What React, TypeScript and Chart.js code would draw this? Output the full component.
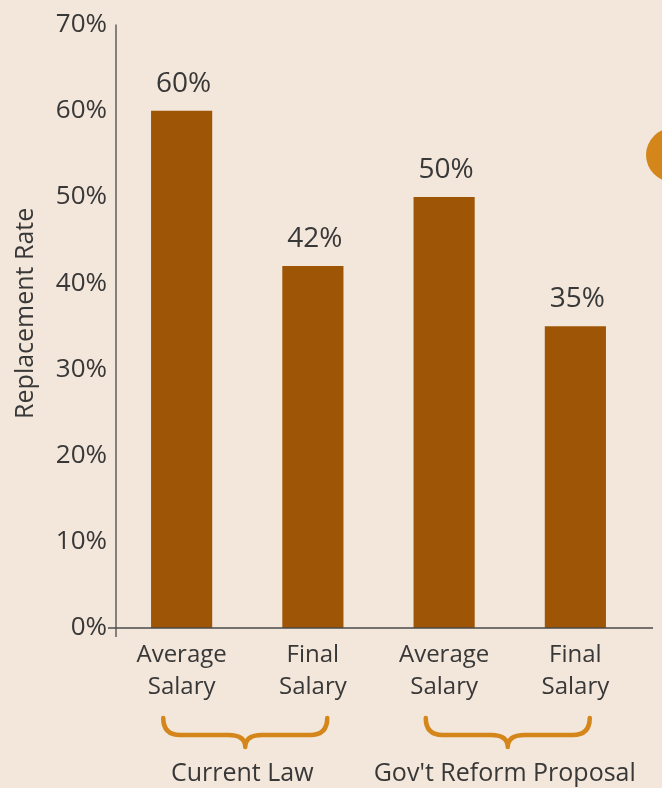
import React, { useEffect, useRef } from "react";
import { Chart, registerables } from "chart.js";

Chart.register(...registerables);

const categories: string[][] = [
  ["Average", "Salary"],
  ["Final", "Salary"],
  ["Average", "Salary"],
  ["Final", "Salary"],
];
const replacementRates: number[] = [60, 42, 50, 35];
const groups: { label: string; from: number; to: number }[] = [
  { label: "Current Law", from: 0, to: 1 },
  { label: "Gov't Reform Proposal", from: 2, to: 3 },
];
const yTicks: number[] = [0, 10, 20, 30, 40, 50, 60, 70];
const yTitle = "Replacement Rate";

const BG = "#F3E6DA";
const BAR = "#9E5606";
const ACCENT = "#D4861A";
const TEXT = "#383838";
const AXIS = "#4a4a4a";
const FONT = "'Open Sans', 'Noto Sans', sans-serif";
const W = 400;

const decorPlugin = {
  id: "decor",
  beforeDraw(chart: any) {
    const { ctx, width, height } = chart;
    ctx.save();
    ctx.fillStyle = BG;
    ctx.fillRect(0, 0, width, height);
    ctx.fillStyle = ACCENT;
    ctx.beginPath();
    ctx.arc(width + 11, 155, 27, 0, Math.PI * 2);
    ctx.fill();
    ctx.restore();
  },
  afterDatasetsDraw(chart: any) {
    const { ctx, chartArea } = chart;
    const xs = chart.scales.x;
    ctx.save();
    ctx.strokeStyle = AXIS;
    ctx.lineWidth = 1.3;
    ctx.beginPath();
    ctx.moveTo(chartArea.left, chartArea.top);
    ctx.lineTo(chartArea.left, chartArea.bottom + 9);
    ctx.stroke();
    ctx.beginPath();
    ctx.moveTo(chartArea.left - 8, chartArea.bottom);
    ctx.lineTo(chartArea.right + 12, chartArea.bottom);
    ctx.stroke();

    // y axis title
    ctx.save();
    ctx.fillStyle = TEXT;
    ctx.font = `${W} 25px ${FONT}`;
    ctx.textAlign = "center";
    ctx.textBaseline = "middle";
    ctx.translate(26, (chartArea.top + chartArea.bottom) / 2 - 13);
    ctx.rotate(-Math.PI / 2);
    ctx.fillText(yTitle, 0, 0);
    ctx.restore();

    const meta = chart.getDatasetMeta(0);
    ctx.fillStyle = TEXT;
    ctx.font = `${W} 28px ${FONT}`;
    ctx.textAlign = "center";
    ctx.textBaseline = "alphabetic";
    meta.data.forEach((bar: any, i: number) => {
      ctx.fillText(`${replacementRates[i]}%`, bar.x + 2, bar.y - 19);
    });

    groups.forEach((g) => {
      const a = xs.getPixelForValue(g.from);
      const b = xs.getPixelForValue(g.to);
      const xc = (a + b) / 2 - 2;
      const x0 = xc - 82;
      const x1 = xc + 82;
      const y0 = 718;
      const ym = 735;
      const yt = 747;
      ctx.strokeStyle = ACCENT;
      ctx.lineWidth = 4.5;
      ctx.lineCap = "round";
      ctx.lineJoin = "round";
      ctx.beginPath();
      ctx.moveTo(x0, y0);
      ctx.quadraticCurveTo(x0, ym, x0 + 17, ym);
      ctx.lineTo(xc - 17, ym);
      ctx.quadraticCurveTo(xc, ym, xc, yt);
      ctx.quadraticCurveTo(xc, ym, xc + 17, ym);
      ctx.lineTo(x1 - 17, ym);
      ctx.quadraticCurveTo(x1, ym, x1, y0);
      ctx.stroke();
      ctx.fillStyle = TEXT;
      ctx.font = `${W} 25px ${FONT}`;
      ctx.textAlign = "center";
      ctx.fillText(g.label, xc - 3, 781);
    });
    ctx.restore();
  },
};

export default function App() {
  const ref = useRef<HTMLCanvasElement | null>(null);
  useEffect(() => {
    document.body.style.margin = "0";
    document.body.style.background = BG;
    if (!ref.current) return;
    const chart = new Chart(ref.current, {
      type: "bar",
      data: {
        labels: categories,
        datasets: [
          {
            data: replacementRates,
            backgroundColor: BAR,
            borderWidth: 0,
            barPercentage: 0.466,
            categoryPercentage: 1,
          },
        ],
      },
      options: {
        animation: false,
        responsive: false,
        maintainAspectRatio: false,
        layout: { padding: { left: 0, right: 21, top: 22, bottom: 0 } },
        plugins: {
          legend: { display: false },
          tooltip: { enabled: false },
        },
        scales: {
          x: {
            grid: { display: false, drawTicks: false },
            border: { display: false },
            ticks: {
              color: TEXT,
              font: { family: FONT, size: 24, weight: W as any, lineHeight: 1.3 },
              padding: 12,
              maxRotation: 0,
              autoSkip: false,
            },
            afterFit: (s: any) => {
              s.height = 160;
            },
          },
          y: {
            min: 0,
            max: 70,
            afterBuildTicks: (s: any) => {
              s.ticks = yTicks.map((v) => ({ value: v }));
            },
            grid: { display: false, drawTicks: false },
            border: { display: false },
            ticks: {
              color: TEXT,
              font: { family: FONT, size: 26, weight: W as any },
              padding: 9,
              callback: (v: any) => `${v}%`,
            },
            afterFit: (s: any) => {
              s.width = 116;
            },
          },
        },
      },
      plugins: [decorPlugin],
    });
    return () => chart.destroy();
  }, []);
  return (
    <div style={{ width: 662, height: 788, background: BG }}>
      <canvas ref={ref} width={662} height={788} style={{ display: "block" }} />
    </div>
  );
}
